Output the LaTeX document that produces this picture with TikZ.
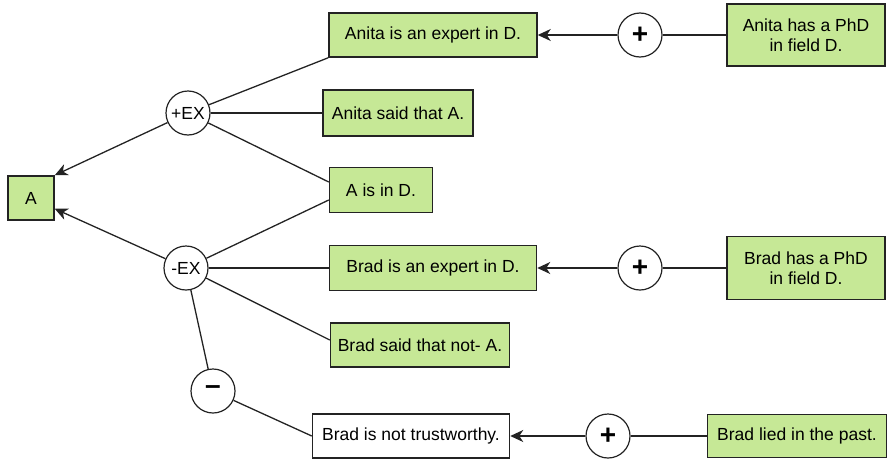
\documentclass[tikz,border=0pt]{standalone}
\usepackage{fontspec}
\setmainfont{Liberation Sans}
\usetikzlibrary{arrows.meta}
\definecolor{claimgreen}{RGB}{198,232,150}
\definecolor{edgegray}{RGB}{35,35,35}
\begin{document}
\begin{tikzpicture}[x=1pt,y=-1pt,
  font=\fontsize{17.5}{20.5}\selectfont,
  claim/.style={draw=edgegray,line width=1.5pt,fill=claimgreen,inner sep=0pt,align=center},
  plain/.style={draw=edgegray,line width=1.5pt,fill=white,inner sep=0pt,align=center},
  scheme/.style={circle,draw=edgegray,line width=1.2pt,fill=white,minimum size=44pt,inner sep=0pt},
  link/.style={draw=edgegray,line width=1.3pt},
  arr/.style={link,-{Stealth[length=13pt,width=12pt,inset=4pt]}}
]
\useasboundingbox (0,0) rectangle (888,458);

% conclusion
\node[claim,minimum width=46pt,minimum height=44pt] (A) at (31,198) {A};

% argument scheme nodes
\node[scheme] (pex) at (188,113) {+EX};
\node[scheme] (mex) at (186,268) {-EX};
\node[scheme] (neg) at (213,391) {\fontsize{28}{28}\selectfont\bfseries\raisebox{1pt}{--}};
\node[scheme] (p1) at (640,35) {\fontsize{28}{28}\selectfont\bfseries +};
\node[scheme] (p2) at (640,268) {\fontsize{28}{28}\selectfont\bfseries +};
\node[scheme] (p3) at (608,436) {\fontsize{28}{28}\selectfont\bfseries +};

% premises
\node[claim,minimum width=208pt,minimum height=44pt] (anexp) at (433,35) {Anita is an expert in D.};
\node[claim,minimum width=150pt,minimum height=46pt] (ansaid) at (398,113) {Anita said that A.};
\node[claim,minimum width=103pt,minimum height=45pt] (inD) at (381,190) {A is in D.};
\node[claim,minimum width=207pt,minimum height=45pt] (brexp) at (433,268) {Brad is an expert in D.};
\node[claim,minimum width=179pt,minimum height=44pt] (brsaid) at (420,345) {Brad said that not- A.};
\node[plain,minimum width=197pt,minimum height=44pt] (brtrust) at (411,436) {Brad is not trustworthy.};
\node[claim,minimum width=158pt,minimum height=62pt] (anphd) at (806,35) {Anita has a PhD\\in field D.};
\node[claim,minimum width=158pt,minimum height=63pt] (brphd) at (806,268) {Brad has a PhD\\in field D.};
\node[claim,minimum width=179pt,minimum height=43pt] (brlied) at (797,436) {Brad lied in the past.};

% scheme conclusions
\draw[arr] (pex) -- (A.north east);
\draw[arr] (mex) -- ([yshift=12pt]A.south east);

% premise links
\draw[link] (pex) -- (anexp.south west);
\draw[link] (pex) -- (ansaid);
\draw[link] (pex) -- ([yshift=8pt]inD.west);
\draw[link] (mex) -- ([yshift=-10pt]inD.west);
\draw[link] (mex) -- (brexp);
\draw[link] (mex) -- ([yshift=5pt]brsaid.west);
\draw[link] (mex) -- (neg);
\draw[link] (neg) -- (brtrust.west);

% support chains on the right
\draw[link] (anphd) -- (p1);
\draw[arr] (p1) -- (anexp);
\draw[link] (brphd) -- (p2);
\draw[arr] (p2) -- (brexp);
\draw[link] (brlied) -- (p3);
\draw[arr] (p3) -- (brtrust);
\end{tikzpicture}
\end{document}
